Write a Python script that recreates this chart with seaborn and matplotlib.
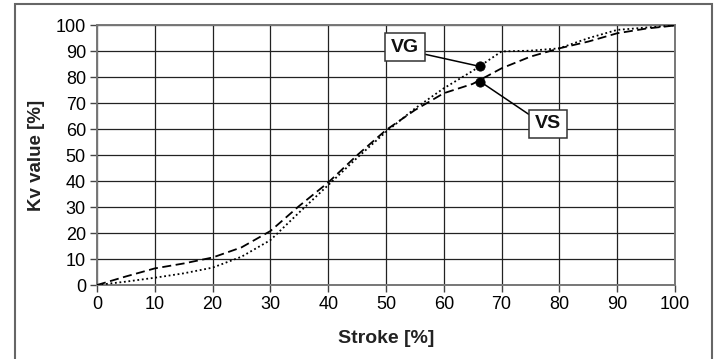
import matplotlib
matplotlib.use("Agg")
import matplotlib.pyplot as plt
import seaborn as sns
import pandas as pd
from matplotlib.patches import Rectangle

stroke = [0, 5, 10, 15, 20, 25, 30, 35, 40, 45, 50, 55, 60, 65, 70, 75, 80, 85, 90, 95, 100]
vs_values = [0, 3.3, 6.4, 8.3, 10.6, 14.5, 20.8, 30.5, 39.5, 50, 59.7, 67.4, 73.9, 77.5, 83.5, 88, 91.2, 93.8, 97, 98.8, 100]
vg_values = [0, 1.3, 2.8, 4.5, 6.7, 10.9, 17.3, 28, 38.5, 49, 59, 68, 75.8, 82.5, 90, 90.3, 91.2, 95.1, 98.3, 99.2, 100]
series_names = ["VG", "VS"]
marker_x = [66.3, 66.3]
marker_y = [84.2, 78.4]
label_x = [53.3, 78.1]
label_y = [91.7, 62.1]
x_ticks = [0, 10, 20, 30, 40, 50, 60, 70, 80, 90, 100]
y_ticks = [0, 10, 20, 30, 40, 50, 60, 70, 80, 90, 100]

sns.set_theme(style="white")
plt.rcParams["font.family"] = ["Liberation Sans", "DejaVu Sans"]

df = pd.DataFrame({
    "Stroke": stroke * 2,
    "Kv": vg_values + vs_values,
    "Valve": ["VG"] * len(stroke) + ["VS"] * len(stroke),
})

fig = plt.figure(figsize=(7.15, 3.59), dpi=100)
ax = fig.add_axes([0.1357, 0.2061, 0.8083, 0.7229])

sns.lineplot(data=df, x="Stroke", y="Kv", hue="Valve", style="Valve",
             palette={"VG": "black", "VS": "black"},
             dashes={"VG": (1, 1.5), "VS": (5, 2.5)},
             linewidth=1.3, legend=False, ax=ax, zorder=3)

sns.scatterplot(x=marker_x, y=marker_y, color="black", s=45, ax=ax,
                zorder=5, edgecolor="black", legend=False)

for name, mx, my, lx, ly, rp in zip(series_names, marker_x, marker_y, label_x, label_y,
                                    [(1, 0.15), (0, 0.8)]):
    ax.annotate(name, xy=(mx, my), xytext=(lx, ly), ha="center", va="center",
                fontsize=14, fontweight="bold", color="#111111", zorder=6,
                bbox=dict(boxstyle="square,pad=0.3", fc="white", ec="#333333", lw=1.1),
                arrowprops=dict(arrowstyle="-", color="black", lw=1.1,
                                shrinkA=0, shrinkB=0, relpos=rp))

ax.set_xlim(0, 100)
ax.set_ylim(0, 100)
ax.set_xticks(x_ticks)
ax.set_yticks(y_ticks)
ax.grid(True, color="#222222", linewidth=0.9)
ax.set_axisbelow(True)
for s in ax.spines.values():
    s.set_color("#777777")
    s.set_linewidth(1.4)
ax.tick_params(axis="both", which="major", direction="out", length=5, width=1,
               color="#444444", labelsize=13, labelcolor="black", pad=3,
               bottom=True, left=True)
ax.set_xlabel("Stroke [%]", fontsize=14, fontweight="bold", color="#222222", labelpad=12)
ax.set_ylabel("Kv value [%]", fontsize=13.5, fontweight="bold", color="#222222", labelpad=8)

fig.patches.append(Rectangle((15 / 715, -0.1), (712 - 15) / 715, 1.1 - 3.5 / 359,
                             transform=fig.transFigure, fill=False,
                             edgecolor="#666666", linewidth=1.5))

fig.savefig("out.png", dpi=100)
